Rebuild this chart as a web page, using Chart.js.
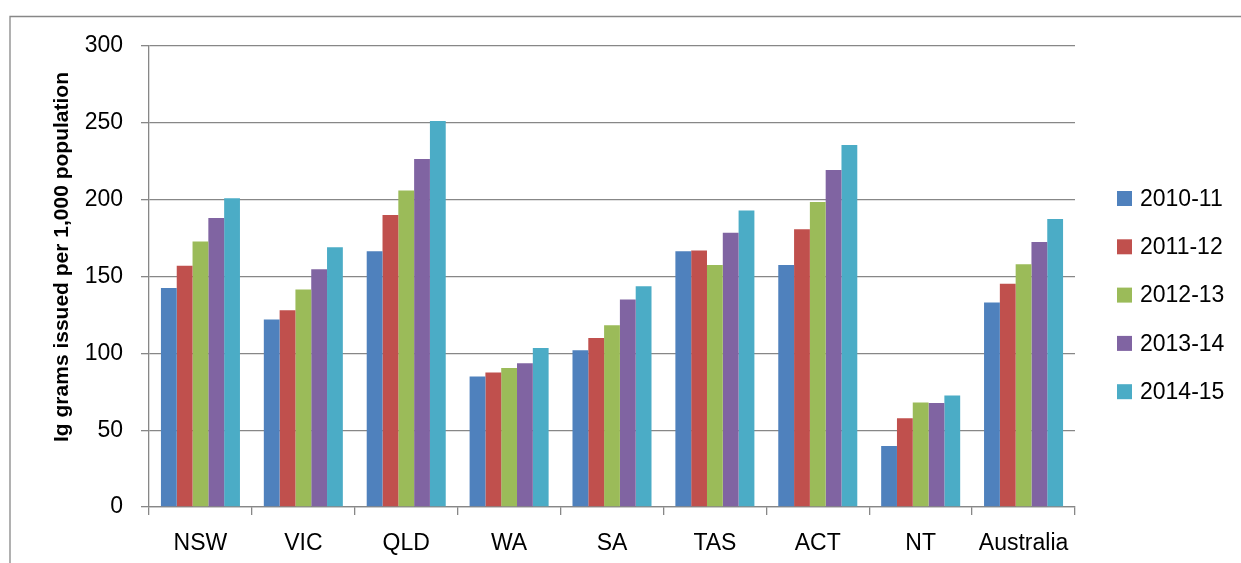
<!DOCTYPE html>
<html>
<head>
<meta charset="utf-8">
<script src="https://cdn.jsdelivr.net/npm/chart.js@4/dist/chart.umd.min.js"></script>
<style>
  html, body { margin: 0; padding: 0; background: #fff; }
  canvas { display: block; }
</style>
</head>
<body>
<canvas id="bars" width="1241" height="563"></canvas>
<script>
const regions = ['NSW', 'VIC', 'QLD', 'WA', 'SA', 'TAS', 'ACT', 'NT', 'Australia'];
const years = ['2010-11', '2011-12', '2012-13', '2013-14', '2014-15'];

const y2010 = [142.5, 122, 166.5, 85, 102, 166.5, 157.5, 39.7, 133];
const y2011 = [157, 128, 190, 87.6, 110, 167, 180.7, 57.7, 145.3];
const y2012 = [172.7, 141.6, 206, 90.5, 118.2, 157.5, 198.5, 68, 158];
const y2013 = [188, 154.7, 226.5, 93.5, 135, 178.5, 219.3, 67.7, 172.5];
const y2014 = [201, 169, 251.2, 103.5, 143.6, 193, 235.6, 72.5, 187.4];

const yTicks = [0, 50, 100, 150, 200, 250, 300];
const yTitle = 'Ig grams issued per 1,000 population';

const colours = ['#4F81BD', '#C0504D', '#9BBB59', '#8064A2', '#4BACC6'];
const gridGrey = '#878787';
const font = "'Liberation Sans', Arial, sans-serif";

const series = [y2010, y2011, y2012, y2013, y2014];

// frame, rotated y title and the legend on the right
const decorations = {
  id: 'decorations',
  beforeDraw(chart) {
    const ctx = chart.ctx;
    ctx.save();
    ctx.strokeStyle = gridGrey;
    ctx.lineWidth = 1.3;
    ctx.beginPath();
    ctx.moveTo(10, 563);
    ctx.lineTo(10, 16.5);
    ctx.lineTo(1241, 16.5);
    ctx.stroke();
    ctx.restore();
  },
  afterDraw(chart) {
    const ctx = chart.ctx;
    ctx.save();
    ctx.translate(62, 257);
    ctx.rotate(-Math.PI / 2);
    ctx.fillStyle = '#000';
    ctx.font = 'bold 21px ' + font;
    ctx.textAlign = 'center';
    ctx.textBaseline = 'middle';
    ctx.fillText(yTitle, 0, 0);
    ctx.restore();

    ctx.save();
    ctx.font = '23px ' + font;
    ctx.textBaseline = 'middle';
    chart.data.datasets.forEach((ds, i) => {
      const y = 198.5 + i * 48.3;
      ctx.fillStyle = ds.backgroundColor;
      ctx.fillRect(1117, y - 7.5, 15, 15);
      ctx.fillStyle = '#000';
      ctx.fillText(ds.label, 1140, y + 1);
    });
    ctx.restore();
  },
};

const config = {
  type: 'bar',
  data: {
    labels: regions,
    datasets: years.map((label, i) => ({
      label: label,
      data: series[i],
      backgroundColor: colours[i],
      categoryPercentage: 0.768,
      barPercentage: 1,
    })),
  },
  options: {
    responsive: false,
    animation: false,
    layout: {
      padding: { top: 46, right: 166, left: 0, bottom: 0 },
    },
    plugins: {
      legend: { display: false },
      tooltip: { enabled: false },
    },
    scales: {
      x: {
        afterFit: (scale) => { scale.height = 56; },
        grid: {
          drawOnChartArea: false,
          drawTicks: true,
          tickLength: 8,
          color: gridGrey,
          lineWidth: 1.3,
        },
        border: { color: gridGrey, width: 1.3 },
        ticks: {
          color: '#000',
          font: { family: font, size: 23 },
          padding: 15,
          maxRotation: 0,
        },
      },
      y: {
        min: 0,
        max: 300,
        afterFit: (scale) => { scale.width = 149; },
        afterBuildTicks: (scale) => {
          scale.ticks = yTicks.map((v) => ({ value: v }));
        },
        grid: {
          color: gridGrey,
          lineWidth: 1.3,
          tickLength: 8,
        },
        border: { color: gridGrey, width: 1.3 },
        ticks: {
          color: '#000',
          font: { family: font, size: 23 },
          padding: 18,
        },
      },
    },
  },
  plugins: [decorations],
};

new Chart(document.getElementById('bars'), config);
</script>
</body>
</html>
